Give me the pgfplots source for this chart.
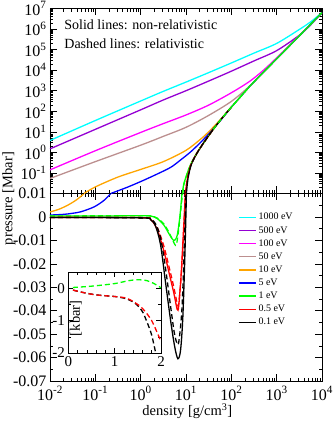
\documentclass[border=0pt]{standalone}
\usepackage{fontspec}
\setmainfont{Liberation Serif}
\usepackage{pgfplots}
\pgfplotsset{compat=1.18}

\definecolor{cCyan}{RGB}{0,255,255}
\definecolor{cViolet}{RGB}{148,0,211}
\definecolor{cMagenta}{RGB}{255,0,255}
\definecolor{cBrown}{RGB}{188,143,143}
\definecolor{cOrange}{RGB}{255,165,0}
\definecolor{cBlue}{RGB}{0,0,255}
\definecolor{cGreen}{RGB}{0,255,0}
\definecolor{cRed}{RGB}{255,0,0}
\newcommand{\ep}[1]{10\textsuperscript{#1}}
\tikzset{dsh/.style={dash pattern=on 5pt off 3pt}}

\begin{document}
\begin{tikzpicture}
% lower panel, linear pressure
\begin{axis}[at={(50pt,41pt)}, anchor=south west,
  scale only axis, width=272pt, height=187.5pt,
  xmode=log, xmin=0.01, xmax=1e4,
  xtick={0.01,0.1,1,10,100,1000,10000},
  minor xtick={0.02,0.03,0.04,0.05,0.06,0.07,0.08,0.09,0.2,0.3,0.4,0.5,0.6,0.7,0.8,0.9,2,3,4,5,6,7,8,9,20,30,40,50,60,70,80,90,200,300,400,500,600,700,800,900,2000,3000,4000,5000,6000,7000,8000,9000},
  tick align=inside, major tick length=7pt, minor tick length=3.5pt,
  axis line style={line width=0.8pt},
  tick style={black, line width=0.6pt},
  tick label style={font=\fontsize{16}{19}\selectfont},
  label style={font=\fontsize{14.5}{17}\selectfont},
  /pgf/number format/assume math mode=true,
  ymin=-0.07, ymax=0.01, scaled y ticks=false,
  ytick={-0.07,-0.06,-0.05,-0.04,-0.03,-0.02,-0.01,0,0.01},
  yticklabels={-0.07,-0.06,-0.05,-0.04,-0.03,-0.02,-0.01,0,0.01},
  minor y tick num=1,
  xticklabels={\ep{-2},\ep{-1},\ep{0},\ep{1},\ep{2},\ep{3},\ep{4}},
  xticklabel style={yshift=-2pt},
  xlabel={density [g/cm\textsuperscript{3}]},
  ylabel={pressure [Mbar]},
  xlabel style={at={(axis description cs:0.505,-0.16)}, anchor=center},
  ylabel style={at={(axis description cs:-0.151,0.973)}, anchor=center},
  legend style={at={(axis description cs:0.68,0.593)}, anchor=west,
    draw=none, fill=none, font=\fontsize{10}{12}\selectfont, row sep=1pt},
  legend cell align=left,
]
\addlegendimage{cCyan, line width=1.3pt}\addlegendentry{1000 eV}
\addlegendimage{cViolet, line width=1.3pt}\addlegendentry{500 eV}
\addlegendimage{cMagenta, line width=1.3pt}\addlegendentry{100 eV}
\addlegendimage{cBrown, line width=1.3pt}\addlegendentry{50 eV}
\addlegendimage{cOrange, line width=1.3pt}\addlegendentry{10 eV}
\addlegendimage{cBlue, line width=1.3pt}\addlegendentry{5 eV}
\addlegendimage{cGreen, line width=1.3pt}\addlegendentry{1 eV}
\addlegendimage{cRed, line width=1.3pt}\addlegendentry{0.5 eV}
\addlegendimage{black, line width=1.3pt}\addlegendentry{0.1 eV}

\addplot[cOrange, line width=1.3pt, smooth, forget plot] coordinates {(0.01,0.0021) (0.01585,0.0033) (0.02512,0.0051) (0.03981,0.0075) (0.0562,0.0100) (0.0708,0.0125)};
\addplot[cBlue, line width=1.3pt, smooth, forget plot] coordinates {(0.01,0.0008) (0.02,0.0011) (0.03,0.0015) (0.0479,0.0022) (0.0942,0.0043) (0.156,0.0071) (0.219,0.0100) (0.28,0.0125)};
% 1 eV
\addplot[cGreen, line width=1.3pt, smooth, forget plot] coordinates {(0.01,0.0004) (0.1,0.0004) (1,0.0005) (1.659,0.0004) (2.328,-0.0007) (3.251,-0.0035) (4.188,-0.0071) (4.977,-0.0094) (5.587,-0.0100) (6.407,-0.0078) (7.311,0.0) (8.249,0.0110) (8.5,0.014)};
\addplot[cGreen, line width=1.3pt, dsh, smooth, forget plot] coordinates {(0.01,0.0004) (1,0.0005) (1.659,0.0004) (2.328,-0.0005) (3.251,-0.003) (4.188,-0.0065) (4.977,-0.0095) (5.875,-0.0121) (6.407,-0.0100) (7.311,-0.001) (8.5,0.0114)};
% 0.5 eV
\addplot[cRed, line width=1.3pt, smooth, forget plot] coordinates {(0.01,-0.0002) (1,-0.0003) (1.659,-0.0011) (2.328,-0.0055) (3.251,-0.0145) (4.188,-0.0235) (5.395,-0.0325) (6.407,-0.0395) (6.9,-0.038) (7.845,-0.024) (8.951,-0.003) (9.755,0.011)};
\addplot[cRed, line width=1.3pt, dsh, smooth, forget plot] coordinates {(0.01,-0.0002) (1,-0.0003) (1.659,-0.0009) (2.328,-0.0045) (3.251,-0.0125) (4.188,-0.021) (5.395,-0.030) (6.407,-0.037) (6.9,-0.037) (7.845,-0.025) (8.951,-0.005) (9.7,0.011)};
% 0.1 eV
\addplot[black, line width=1.3pt, smooth, forget plot] coordinates {(0.01,-0.0002) (1,-0.0004) (1.659,-0.0012) (2.136,-0.004) (2.752,-0.012) (3.54,-0.028) (4.562,-0.044) (5.587,-0.055) (6.607,-0.0605) (7.573,-0.057) (8.503,-0.043) (9.428,-0.017) (10.25,0.011)};
\addplot[black, line width=1.3pt, dsh, smooth, forget plot] coordinates {(0.01,-0.0002) (1,-0.0004) (1.659,-0.0010) (2.136,-0.003) (2.752,-0.009) (3.54,-0.022) (4.562,-0.038) (5.587,-0.050) (6.607,-0.0545) (7.3,-0.050) (8.2,-0.038) (9.1,-0.015) (10.0,0.011)};
\end{axis}

% upper panel, logarithmic pressure
\begin{axis}[at={(50pt,228.5pt)}, anchor=south west,
  scale only axis, width=272pt, height=185pt,
  xmode=log, xmin=0.01, xmax=1e4,
  xtick={0.01,0.1,1,10,100,1000,10000}, xticklabels={,,,,,,},
  minor xtick={0.02,0.03,0.04,0.05,0.06,0.07,0.08,0.09,0.2,0.3,0.4,0.5,0.6,0.7,0.8,0.9,2,3,4,5,6,7,8,9,20,30,40,50,60,70,80,90,200,300,400,500,600,700,800,900,2000,3000,4000,5000,6000,7000,8000,9000},
  tick align=inside, major tick length=7pt, minor tick length=3.5pt,
  axis line style={line width=0.8pt},
  tick style={black, line width=0.6pt},
  tick label style={font=\fontsize{16}{19}\selectfont},
  /pgf/number format/assume math mode=true,
  ymode=log, ymin=0.01, ymax=1e7,
  ytick={0.01,0.1,1,10,100,1000,1e4,1e5,1e6,1e7},
  yticklabels={,\ep{-1},\ep{0},\ep{1},\ep{2},\ep{3},\ep{4},\ep{5},\ep{6},\ep{7}},
  minor ytick={0.02,0.03,0.04,0.05,0.06,0.07,0.08,0.09,0.2,0.3,0.4,0.5,0.6,0.7,0.8,0.9,2,3,4,5,6,7,8,9,20,30,40,50,60,70,80,90,200,300,400,500,600,700,800,900,2000,3000,4000,5000,6000,7000,8000,9000,2e4,3e4,4e4,5e4,6e4,7e4,8e4,9e4,2e5,3e5,4e5,5e5,6e5,7e5,8e5,9e5,2e6,3e6,4e6,5e6,6e6,7e6,8e6,9e6},
]
\addplot[cCyan, line width=1.3pt, smooth] coordinates {(0.01,3.80) (0.1,35.5) (1,316) (3.162,933) (10,2630) (31.62,7590) (100,22400) (316.2,67600) (1000,2.0e5) (3162,9.55e5) (5623,2.24e6) (10000,6.31e6)};
\addplot[cViolet, line width=1.3pt, smooth] coordinates {(0.01,1.48) (0.1,13.2) (1,117.5) (3.162,355) (10,1000) (31.62,2950) (100,8910) (316.2,28200) (1000,89100) (3162,5.01e5) (5623,1.585e6) (10000,6.31e6)};
\addplot[cMagenta, line width=1.3pt, smooth] coordinates {(0.01,0.141) (0.1,1.202) (1,9.333) (3.162,25.12) (10,66.07) (31.62,199.5) (100,794.3) (251.2,2818) (501.2,9550) (1000,39810) (3162,4.786e5) (10000,6.31e6)};
\addplot[cBrown, line width=1.3pt, smooth] coordinates {(0.01,0.0537) (0.1,0.355) (1,2.239) (3.162,6.026) (10,16.6) (31.62,63.1) (100,302) (251.2,1660) (501.2,7943) (1000,36310) (3162,4.677e5) (10000,6.31e6)};
\addplot[cOrange, line width=1.3pt, smooth] coordinates {(0.0562,0.01) (0.1,0.0209) (0.3162,0.0631) (1,0.148) (3.162,0.355) (10,1.259) (20.89,4.365) (31.62,10) (57.54,39.81) (100,158.5) (158.5,501.2) (251.2,1585) (501.2,7586) (1000,35480) (3162,4.677e5) (10000,6.31e6)};
\addplot[cBlue, line width=1.3pt, smooth] coordinates {(0.2188,0.01) (0.5012,0.01995) (1,0.038) (1.995,0.0759) (4.571,0.186) (7.586,0.427) (12.59,1.047) (20.89,3.02) (31.62,7.943) (57.54,35.48) (100,158.5) (158.5,501.2) (251.2,1585) (501.2,7586) (1000,35480) (3162,4.677e5) (10000,6.31e6)};
\addplot[cGreen, line width=1.3pt, smooth] coordinates {(8.318,0.01) (8.913,0.0282) (10,0.0631) (11.22,0.132) (12.59,0.251) (14.13,0.417) (17.78,1) (25.12,3.162) (39.81,13.18) (63.1,47.86) (100,158.5) (158.5,501.2) (251.2,1585) (501.2,7586) (1000,35480) (3162,4.677e5) (10000,6.31e6)};
\addplot[cRed, line width=1.3pt, smooth] coordinates {(9.7,0.01) (10.2,0.0251) (10.8,0.0562) (11.5,0.112) (12.59,0.224) (14.13,0.398) (17.78,1) (25.12,3.162) (39.81,13.18) (63.1,47.86) (100,158.5)};
\addplot[black, line width=1.3pt, smooth] coordinates {(10.2,0.01) (10.6,0.0251) (11.1,0.0562) (11.8,0.112) (12.7,0.214) (14.13,0.38) (17.78,0.977) (25.12,3.162) (39.81,13.18) (63.1,47.86) (100,158.5)};
\addplot[cGreen, line width=1.3pt, dsh, smooth] coordinates {(8.5,0.01) (9.0,0.0282) (10,0.0631) (11.22,0.132) (12.59,0.251) (14.13,0.417) (17.78,1) (25.12,3.162) (39.81,13.18) (63.1,47.86) (100,158.5) (158.5,501.2) (251.2,1585)};
\addplot[cRed, line width=1.3pt, dsh, smooth] coordinates {(9.65,0.01) (10.2,0.0251) (10.8,0.0562) (11.5,0.112) (12.59,0.224) (14.13,0.398) (17.78,1) (25.12,3.162) (39.81,13.18)};
\addplot[black, line width=1.3pt, dsh, smooth] coordinates {(10.0,0.01) (10.5,0.0251) (11.0,0.0562) (11.7,0.112) (12.7,0.214) (14.13,0.38) (17.78,0.977) (25.12,3.162) (39.81,13.18)};
\node[anchor=west, font=\fontsize{14}{17}\selectfont] at (axis description cs:0.04,0.911) {Solid lines: non-relativistic};
\node[anchor=west, font=\fontsize{14}{17}\selectfont] at (axis description cs:0.04,0.812) {Dashed lines: relativistic};
\end{axis}

% inset, low density region in kbar
\begin{axis}[at={(68.3pt,69pt)}, anchor=south west, scale only axis,
  width=92.7pt, height=80.7pt,
  xmin=0, xmax=2, ymin=-2, ymax=0.5,
  xtick={0,1,2}, xticklabels={0,1,2},
  ytick={-2,-1,0}, yticklabels={-2,-1,0},
  minor x tick num=4, minor y tick num=1,
  tick align=inside, major tick length=5pt, minor tick length=3pt,
  tick style={black, line width=0.6pt},
  axis line style={line width=0.8pt},
  axis background/.style={fill=white},
  tick label style={font=\fontsize{15}{18}\selectfont},
  /pgf/number format/assume math mode=true,
  ylabel={[kbar]},
  ylabel style={at={(axis description cs:0.08,0.43)}, anchor=center, font=\fontsize{14.5}{17}\selectfont},
]
\addplot[black, line width=1.3pt, dsh, smooth] coordinates {(0.1,-0.05) (0.3,-0.12) (0.6,-0.2) (1.0,-0.25) (1.25,-0.32) (1.45,-0.47) (1.6,-0.72) (1.7,-1.05) (1.8,-1.45) (1.9,-2.1)};
\addplot[cRed, line width=1.3pt, dsh, smooth] coordinates {(0.1,-0.05) (0.3,-0.12) (0.6,-0.2) (1.0,-0.25) (1.25,-0.3) (1.45,-0.45) (1.6,-0.62) (1.8,-1.0) (2.0,-1.65)};
\addplot[cGreen, line width=1.3pt, dsh, smooth] coordinates {(0.1,0.03) (0.5,0.07) (1.0,0.15) (1.3,0.24) (1.5,0.27) (1.7,0.24) (1.85,0.15) (2.0,0.02)};
\end{axis}

\pgfresetboundingbox
\useasboundingbox (0,0) rectangle (332pt,422pt);
\end{tikzpicture}
\end{document}
